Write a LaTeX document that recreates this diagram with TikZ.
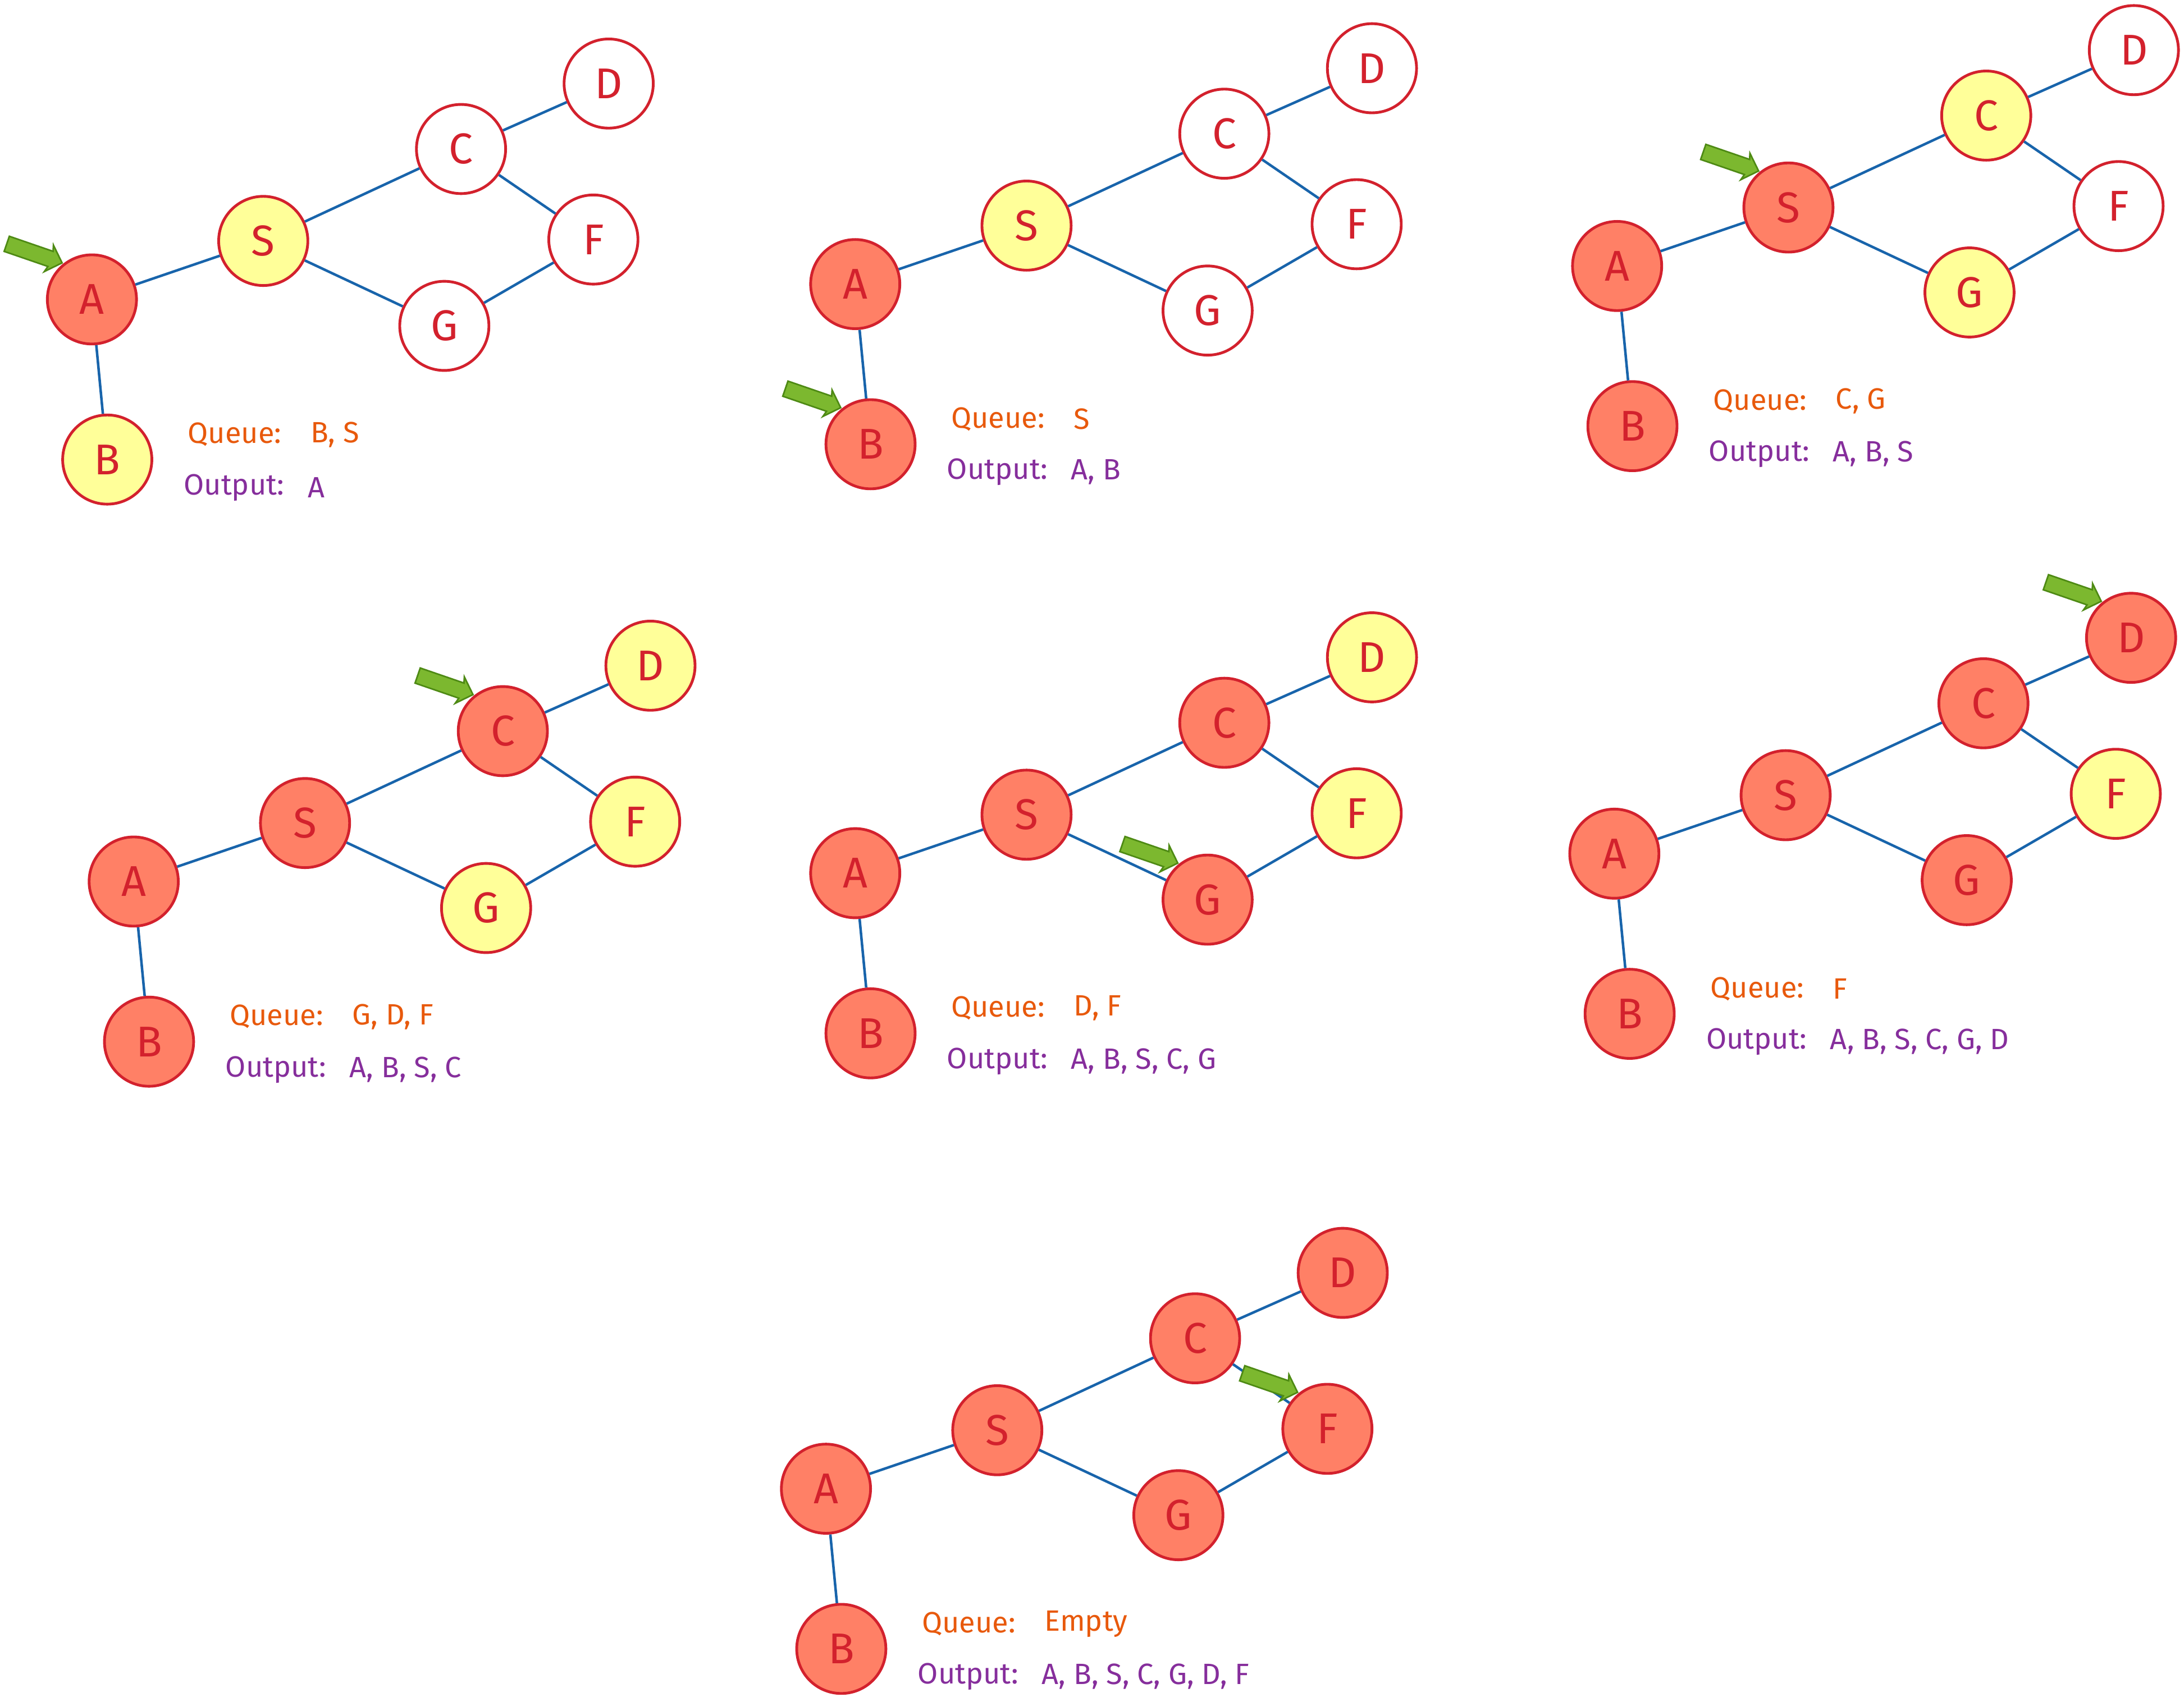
\documentclass[tikz,border=0pt]{standalone}
\usepackage{fontspec}
\setmainfont{Fira Sans}
\usetikzlibrary{calc,shapes.arrows}
\definecolor{nr}{HTML}{FF8066}
\definecolor{ny}{HTML}{FFFF99}
\definecolor{nw}{HTML}{FFFFFF}
\definecolor{stk}{HTML}{D3212D}
\definecolor{edg}{HTML}{1864AB}
\definecolor{qc}{HTML}{E8590C}
\definecolor{oc}{HTML}{862E9C}
\definecolor{arf}{HTML}{7CB82F}
\definecolor{ars}{HTML}{4E8A14}
\tikzset{
 gnode/.style={circle,draw=stk,line width=1.4pt,minimum size=1.6cm,inner sep=0pt,font=\fontsize{22}{24}\selectfont,text=stk},
 gedge/.style={draw=edg,line width=1.3pt},
 qtext/.style={anchor=west,text=qc,font=\fontsize{15}{17}\selectfont},
 otext/.style={anchor=west,text=oc,font=\fontsize{15}{17}\selectfont},
 pointer/.style={draw=ars,fill=arf,line width=0.8pt,single arrow,minimum height=1.05cm,minimum width=0.5cm,single arrow head extend=0.07cm,single arrow head indent=0.03cm,inner sep=0.08cm,rotate=-19},
}
\begin{document}
\begin{tikzpicture}[x=0.025cm,y=-0.025cm]
\fill[white] (0,0) rectangle (1568,1222);
\foreach \p/\ox/\oy/\ca/\cb/\cs/\cc/\cg/\cd/\cf/\q/\o/\tg in {
 a/0/0/nr/ny/ny/nw/nw/nw/nw/{B, S}/{A}/A,
 b/548/-11/nr/nr/ny/nw/nw/nw/nw/{S}/{A, B}/B,
 c/1095/-24/nr/nr/nr/ny/ny/nw/nw/{C, G}/{A, B, S}/S,
 d/30/418/nr/nr/nr/nr/ny/ny/ny/{G, D, F}/{A, B, S, C}/C,
 e/548/412/nr/nr/nr/nr/nr/ny/ny/{D, F}/{A, B, S, C, G}/G,
 f/1093/398/nr/nr/nr/nr/nr/nr/ny/{F}/{A, B, S, C, G, D}/D,
 g/527/854/nr/nr/nr/nr/nr/nr/nr/{Empty}/{A, B, S, C, G, D, F}/F}{
 \begin{scope}[shift={(\ox,\oy)}]
  \node[gnode,fill=\ca] (\p A) at (66,215) {A};
  \node[gnode,fill=\cs] (\p S) at (189,173) {S};
  \node[gnode,fill=\cc] (\p C) at (331,107) {C};
  \node[gnode,fill=\cd] (\p D) at (437,60) {D};
  \node[gnode,fill=\cf] (\p F) at (426,172) {F};
  \node[gnode,fill=\cg] (\p G) at (319,234) {G};
  \node[gnode,fill=\cb] (\p B) at (77,330) {B};
  \draw[gedge] (\p A) -- (\p S);
  \draw[gedge] (\p A) -- (\p B);
  \draw[gedge] (\p S) -- (\p C);
  \draw[gedge] (\p S) -- (\p G);
  \draw[gedge] (\p C) -- (\p D);
  \draw[gedge] (\p C) -- (\p F);
  \draw[gedge] (\p G) -- (\p F);
  \node[qtext] (\p q) at (130,312) {Queue:};
  \node[qtext] (\p qv) at (218,312) {\q};
  \node[otext] (\p o) at (127,350) {Output:};
  \node[otext] (\p ov) at (216,350) {\o};
  \node[pointer] (\p ptr) at ($(\p\tg)+(-44,-34)$) {};
 \end{scope}
}
\end{tikzpicture}
\end{document}
